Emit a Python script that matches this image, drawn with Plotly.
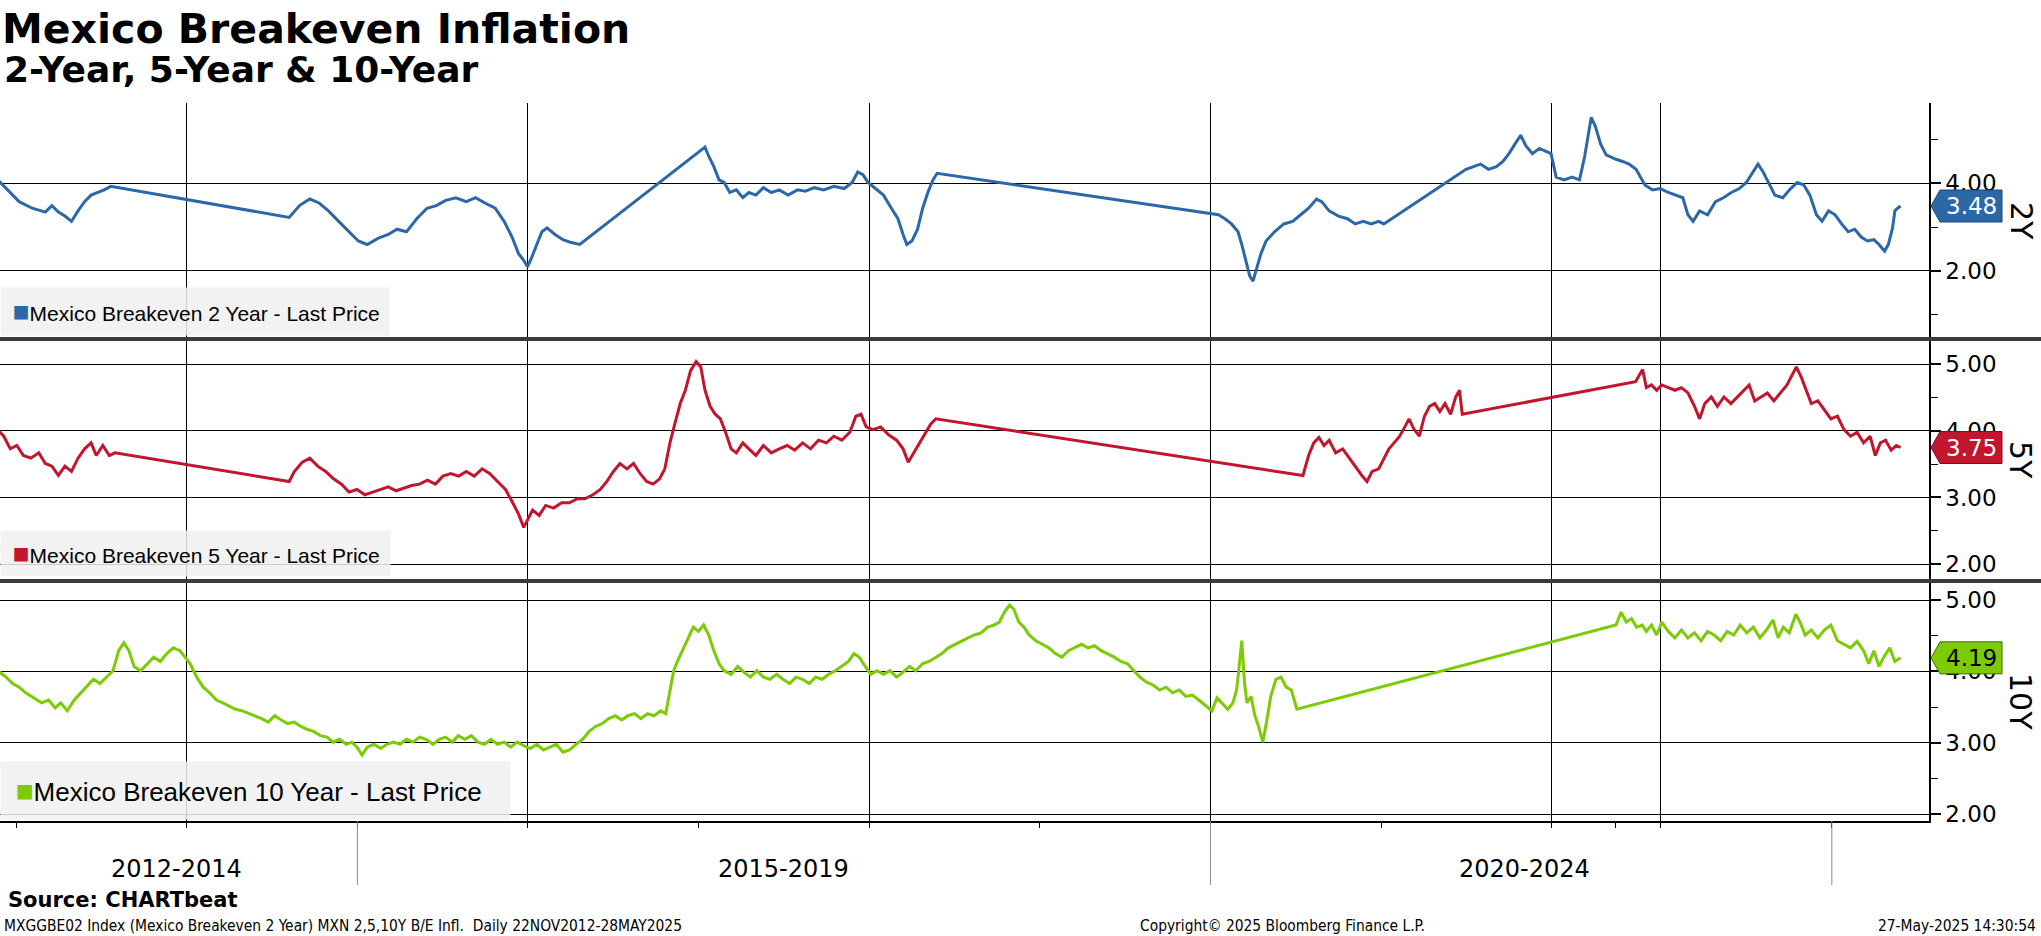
import plotly.graph_objects as go

# ---------------- data ----------------
dates_2y = ["2012-11-22","2012-12-10","2013-01-07","2013-02-04","2013-03-04","2013-03-18","2013-04-01","2013-04-15",
 "2013-04-29","2013-05-13","2013-05-27","2013-06-10","2013-06-24","2013-07-08","2013-07-22",
 "2014-08-08","2014-08-30","2014-09-21","2014-10-11","2014-10-31","2014-11-22","2014-12-14",
 "2015-01-03","2015-01-22","2015-02-14","2015-03-08","2015-03-27","2015-04-16","2015-05-08","2015-05-30",
 "2015-06-19","2015-07-09","2015-07-31","2015-08-22","2015-09-11","2015-10-01","2015-10-23","2015-11-11",
 "2015-11-28","2015-12-12","2015-12-23","2015-12-31","2016-01-09","2016-01-20","2016-01-31","2016-02-11",
 "2016-02-28","2016-03-16","2016-04-01","2016-04-21",
 "2017-01-14","2017-01-22","2017-02-02","2017-02-13","2017-02-24","2017-03-08","2017-03-22","2017-04-05",
 "2017-04-18","2017-05-03","2017-05-19","2017-06-05","2017-06-22","2017-07-11","2017-07-31","2017-08-17",
 "2017-09-05","2017-09-25","2017-10-17","2017-11-08","2017-11-25","2017-12-07","2017-12-18","2017-12-29",
 "2018-01-14","2018-01-31","2018-02-17","2018-03-03","2018-03-14","2018-03-22","2018-04-02","2018-04-14",
 "2018-04-25","2018-05-06","2018-05-17","2018-05-26",
 "2020-01-18","2020-02-01","2020-02-15","2020-02-29","2020-03-08","2020-03-17","2020-03-25","2020-04-01",
 "2020-04-10","2020-04-18","2020-04-29","2020-05-17","2020-06-06","2020-06-25","2020-07-12","2020-07-29",
 "2020-08-15","2020-08-26","2020-09-11","2020-10-01","2020-10-20","2020-11-06","2020-11-23","2020-12-10",
 "2020-12-26","2021-01-06",
 "2021-07-01","2021-07-15","2021-08-01","2021-08-18","2021-09-04","2021-09-18","2021-10-01","2021-10-15",
 "2021-10-26","2021-11-06","2021-11-20","2021-12-05","2021-12-19","2021-12-30","2022-01-10","2022-01-27",
 "2022-02-13","2022-03-01","2022-03-12","2022-03-19","2022-11-10","2022-11-19","2022-11-30","2022-12-12",
 "2022-12-22","2023-01-02","2023-01-16","2023-01-30","2023-02-14","2023-02-27","2023-11-28","2023-12-14",
 "2023-12-31","2024-01-17","2024-02-03","2024-02-17","2024-02-28","2024-03-10","2024-03-24","2024-04-10",
 "2024-04-27","2024-05-14","2024-05-31","2024-06-17","2024-07-02","2024-07-16","2024-07-27","2024-08-07",
 "2024-08-19","2024-09-01","2024-09-18","2024-10-05","2024-10-19","2024-11-02","2024-11-15","2024-11-29",
 "2024-12-11","2024-12-25","2025-01-08","2025-01-22","2025-02-05","2025-02-19","2025-03-05","2025-03-18",
 "2025-04-01","2025-04-12","2025-04-24","2025-05-02","2025-05-11","2025-05-16","2025-05-22","2025-05-28"]
values_2y = [4.08,3.88,3.58,3.43,3.34,3.49,3.34,3.25,
 3.13,3.37,3.58,3.73,3.79,3.85,3.93,
 3.22,3.49,3.64,3.55,3.37,3.13,2.89,
 2.68,2.60,2.74,2.83,2.95,2.89,3.19,3.43,
 3.49,3.61,3.67,3.58,3.67,3.55,3.43,3.13,
 2.77,2.39,2.24,2.09,2.30,2.60,2.89,2.98,
 2.83,2.71,2.65,2.60,
 4.83,4.62,4.38,4.08,4.02,3.79,3.85,3.67,
 3.79,3.73,3.90,3.79,3.85,3.73,3.85,3.82,
 3.90,3.85,3.93,3.88,4.02,4.26,4.20,4.02,
 3.88,3.73,3.43,3.19,2.83,2.60,2.68,2.95,
 3.43,3.79,4.08,4.23,
 3.28,3.19,3.07,2.89,2.60,2.24,1.88,1.76,
 2.09,2.39,2.68,2.89,3.07,3.13,3.28,3.43,
 3.64,3.58,3.37,3.25,3.19,3.07,3.13,3.07,
 3.13,3.07,
 4.32,4.38,4.44,4.32,4.38,4.50,4.68,4.92,
 5.10,4.86,4.68,4.80,4.74,4.68,4.14,4.08,
 4.14,4.08,4.62,5.10,5.51,5.30,4.90,4.65,
 4.60,4.55,4.50,4.44,4.32,4.08,3.96,3.85,
 3.88,3.79,3.73,3.67,3.28,3.13,3.37,3.28,
 3.58,3.67,3.79,3.88,4.02,4.26,4.44,4.26,
 4.02,3.73,3.67,3.88,4.02,3.96,3.73,3.28,
 3.13,3.37,3.28,3.07,2.89,2.95,2.77,2.68,
 2.71,2.60,2.45,2.60,2.98,3.37,3.43,3.48]

dates_5y = ["2012-11-22","2012-12-05","2012-12-19","2013-01-02","2013-01-16","2013-02-01","2013-02-18","2013-03-04",
 "2013-03-18","2013-04-01","2013-04-15","2013-04-29","2013-05-13","2013-05-27","2013-06-10","2013-06-21",
 "2013-07-05","2013-07-19","2013-07-31",
 "2014-08-08","2014-08-19","2014-09-05","2014-09-21","2014-10-08","2014-10-25","2014-11-11","2014-11-28",
 "2014-12-14","2014-12-31","2015-01-17","2015-02-03","2015-02-20","2015-03-08","2015-03-25","2015-04-10",
 "2015-04-27","2015-05-14","2015-05-31","2015-06-17","2015-07-03","2015-07-20","2015-08-06","2015-08-22",
 "2015-09-08","2015-09-25","2015-10-11","2015-10-28","2015-11-14","2015-11-28","2015-12-12","2015-12-23",
 "2015-12-31","2016-01-11","2016-01-25","2016-02-08","2016-02-25","2016-03-13","2016-03-30","2016-04-16",
 "2016-05-02","2016-05-19","2016-06-04","2016-06-18","2016-07-02","2016-07-16","2016-07-31","2016-08-14",
 "2016-08-28","2016-09-11","2016-09-25","2016-10-09","2016-10-20","2016-10-31","2016-11-11","2016-11-22",
 "2016-12-03","2016-12-14","2016-12-26","2017-01-05","2017-01-14","2017-01-25","2017-02-05","2017-02-16",
 "2017-02-27","2017-03-11","2017-03-22","2017-04-05","2017-04-18","2017-05-03","2017-05-19","2017-06-05",
 "2017-06-22","2017-07-09","2017-07-25","2017-08-11","2017-08-28","2017-09-14","2017-10-01","2017-10-17",
 "2017-11-03","2017-11-20","2017-12-03","2017-12-14","2017-12-25","2018-01-09","2018-01-25","2018-02-11",
 "2018-02-28","2018-03-14","2018-03-25","2018-04-06","2018-04-17","2018-05-01","2018-05-12","2018-05-23",
 "2020-07-17","2020-07-29","2020-08-09","2020-08-20","2020-08-31","2020-09-11","2020-09-25","2020-10-10",
 "2020-10-24","2020-11-06","2020-11-20","2020-12-01","2020-12-12","2020-12-26","2021-01-06","2021-01-17",
 "2021-01-28","2021-02-09","2021-02-20","2021-03-01","2021-03-12","2021-03-23","2021-04-03","2021-04-14",
 "2021-04-25","2021-05-06","2021-05-17","2021-05-29","2021-06-09","2021-06-17","2021-06-23",
 "2023-02-13","2023-02-21","2023-02-28","2023-12-01","2023-12-12","2023-12-23","2024-01-03","2024-01-17",
 "2024-01-31","2024-02-14","2024-02-28","2024-03-13","2024-03-24","2024-04-04","2024-04-18","2024-05-01",
 "2024-05-15","2024-05-30","2024-06-13","2024-06-27","2024-07-08","2024-07-20","2024-08-02","2024-08-16",
 "2024-08-30","2024-09-13","2024-09-27","2024-10-08","2024-10-17","2024-10-28","2024-11-07","2024-11-18",
 "2024-12-02","2024-12-16","2024-12-30","2025-01-13","2025-01-27","2025-02-10","2025-02-24","2025-03-10",
 "2025-03-24","2025-04-04","2025-04-15","2025-04-26","2025-05-08","2025-05-19","2025-05-28"]
values_5y = [4.02,3.92,3.73,3.78,3.63,3.59,3.67,3.51,
 3.47,3.33,3.47,3.39,3.59,3.73,3.82,3.63,
 3.78,3.63,3.67,
 3.24,3.39,3.53,3.59,3.47,3.39,3.28,3.20,
 3.08,3.12,3.04,3.08,3.12,3.16,3.10,3.14,
 3.18,3.20,3.26,3.20,3.32,3.36,3.32,3.39,
 3.32,3.43,3.36,3.24,3.12,2.94,2.75,2.55,
 2.65,2.81,2.73,2.88,2.84,2.92,2.92,2.98,
 2.98,3.04,3.12,3.24,3.39,3.51,3.43,3.51,
 3.36,3.24,3.20,3.28,3.43,3.82,4.12,4.41,
 4.61,4.90,5.04,4.96,4.61,4.37,4.25,4.18,
 3.98,3.73,3.67,3.82,3.73,3.63,3.78,3.67,
 3.73,3.78,3.71,3.82,3.73,3.86,3.82,3.92,
 3.86,3.98,4.22,4.25,4.06,4.02,4.06,3.94,
 3.86,3.73,3.53,3.67,3.82,3.98,4.10,4.18,
 3.33,3.63,3.82,3.90,3.78,3.86,3.67,3.73,
 3.59,3.47,3.33,3.24,3.39,3.43,3.59,3.73,
 3.82,3.92,4.06,4.18,4.02,3.92,4.22,4.37,
 4.41,4.29,4.41,4.25,4.51,4.61,4.25,
 4.74,4.84,4.92,4.65,4.69,4.61,4.69,4.65,
 4.61,4.65,4.57,4.37,4.18,4.41,4.51,4.37,
 4.51,4.41,4.51,4.61,4.69,4.45,4.51,4.57,
 4.45,4.57,4.69,4.84,4.96,4.80,4.61,4.41,
 4.45,4.31,4.18,4.22,4.02,3.92,3.98,3.82,
 3.92,3.63,3.82,3.86,3.71,3.78,3.75]

dates_10y = ["2012-11-22","2012-12-10","2012-12-24","2013-01-07","2013-01-21","2013-02-07","2013-02-24","2013-03-11",
 "2013-03-25","2013-04-06","2013-04-20","2013-05-05","2013-05-19","2013-06-01","2013-06-15","2013-06-29",
 "2013-07-13","2013-07-27","2013-08-08","2013-08-19","2013-08-30","2013-09-10","2013-09-24","2013-10-08",
 "2013-10-22","2013-11-05","2013-11-19","2013-12-03","2013-12-17","2013-12-28","2014-01-08","2014-01-22",
 "2014-02-05","2014-02-19","2014-03-05","2014-03-19","2014-04-01","2014-04-15","2014-04-29","2014-05-14",
 "2014-05-28","2014-06-10","2014-06-24","2014-07-08","2014-07-22","2014-08-05","2014-08-19","2014-09-02",
 "2014-09-15","2014-09-29","2014-10-14","2014-10-28","2014-11-10","2014-11-24","2014-12-08","2014-12-20",
 "2014-12-31","2015-01-11","2015-01-22","2015-02-05","2015-02-20","2015-03-05","2015-03-19","2015-04-02",
 "2015-04-16","2015-04-30","2015-05-14","2015-05-28","2015-06-12","2015-06-25","2015-07-09","2015-07-23",
 "2015-08-05","2015-08-19","2015-09-02","2015-09-16","2015-09-30","2015-10-14","2015-10-28","2015-11-11",
 "2015-11-25","2015-12-09","2015-12-23","2016-01-06","2016-01-20","2016-02-03","2016-02-17","2016-03-02",
 "2016-03-16","2016-03-30","2016-04-13","2016-04-27","2016-05-11","2016-05-25","2016-06-08","2016-06-22",
 "2016-07-06","2016-07-20","2016-08-02","2016-08-16","2016-08-30","2016-09-13","2016-09-27","2016-10-11",
 "2016-10-22","2016-10-31","2016-11-08","2016-11-16","2016-11-27","2016-12-09","2016-12-20","2016-12-31",
 "2017-01-11","2017-01-22","2017-02-02","2017-02-13","2017-02-24","2017-03-11","2017-03-25","2017-04-07",
 "2017-04-21","2017-05-05","2017-05-19","2017-06-02","2017-06-16","2017-06-30","2017-07-14","2017-07-28",
 "2017-08-11","2017-08-25","2017-09-08","2017-09-22","2017-10-06","2017-10-20","2017-11-03","2017-11-17",
 "2017-11-29","2017-12-10","2017-12-23","2018-01-04","2018-01-17","2018-01-31","2018-02-14","2018-02-28",
 "2018-03-14","2018-03-28","2018-04-10","2018-04-25","2018-05-09","2018-05-23","2018-06-05","2018-06-19",
 "2018-07-03","2018-07-17","2018-07-31","2018-08-14","2018-08-28","2018-09-11","2018-09-25","2018-10-06",
 "2018-10-17","2018-10-28","2018-11-06","2018-11-17","2018-11-28","2018-12-09","2018-12-23","2019-01-06",
 "2019-01-20","2019-02-03","2019-02-17","2019-03-03","2019-03-17","2019-03-31","2019-04-14","2019-04-28",
 "2019-05-12","2019-05-26","2019-06-09","2019-06-23","2019-07-07","2019-07-21","2019-08-03","2019-08-17",
 "2019-08-31","2019-09-14","2019-09-28","2019-10-12","2019-10-26","2019-11-09","2019-11-23","2019-12-07",
 "2019-12-21","2020-01-04","2020-01-15","2020-01-26","2020-02-07","2020-02-18","2020-02-26","2020-03-03",
 "2020-03-08","2020-03-14","2020-03-19","2020-03-28","2020-04-05","2020-04-13","2020-04-22","2020-04-30",
 "2020-05-09","2020-05-20","2020-05-31","2020-06-11","2020-06-22","2020-07-04",
 "2023-01-02","2023-01-13","2023-01-24","2023-02-04","2023-02-15","2023-02-27","2023-12-01","2023-12-12",
 "2023-12-23","2024-01-03","2024-01-17","2024-01-31","2024-02-14","2024-02-28","2024-03-13","2024-03-27",
 "2024-04-10","2024-04-24","2024-05-08","2024-05-22","2024-06-05","2024-06-19","2024-07-03","2024-07-17",
 "2024-07-31","2024-08-14","2024-08-28","2024-09-08","2024-09-19","2024-10-02","2024-10-16","2024-10-25",
 "2024-11-05","2024-11-18","2024-12-02","2024-12-16","2024-12-30","2025-01-13","2025-01-27","2025-02-10",
 "2025-02-24","2025-03-10","2025-03-21","2025-04-01","2025-04-12","2025-04-23","2025-05-05","2025-05-16",
 "2025-05-28"]
values_10y = [4.01,3.92,3.83,3.78,3.70,3.63,3.56,3.60,
 3.49,3.56,3.45,3.60,3.70,3.78,3.89,3.83,
 3.92,4.01,4.29,4.40,4.29,4.07,4.01,4.11,
 4.20,4.14,4.25,4.33,4.29,4.20,4.11,3.92,
 3.78,3.70,3.60,3.56,3.52,3.47,3.45,3.41,
 3.38,3.34,3.29,3.38,3.32,3.27,3.29,3.23,
 3.19,3.16,3.10,3.08,3.01,3.05,2.98,3.01,
 2.94,2.83,2.94,2.98,2.92,2.98,3.01,2.98,
 3.05,3.01,3.08,3.05,2.98,3.05,3.08,3.01,
 3.10,3.05,3.10,3.01,2.98,3.05,2.98,3.01,
 2.94,3.01,2.96,2.92,2.98,2.90,2.94,2.98,
 2.87,2.90,2.98,3.05,3.16,3.23,3.27,3.34,
 3.38,3.32,3.38,3.41,3.34,3.41,3.38,3.45,
 3.41,3.74,4.01,4.14,4.29,4.47,4.62,4.56,
 4.65,4.51,4.29,4.11,4.01,3.96,4.07,3.99,
 3.92,4.01,3.92,3.89,3.96,3.89,3.83,3.92,
 3.89,3.83,3.92,3.89,3.96,4.01,4.07,4.14,
 4.25,4.20,4.07,3.96,4.01,3.96,4.01,3.92,
 3.99,4.07,4.01,4.11,4.14,4.20,4.25,4.33,
 4.38,4.43,4.47,4.51,4.54,4.62,4.65,4.69,
 4.83,4.93,4.87,4.69,4.62,4.51,4.43,4.38,
 4.33,4.25,4.20,4.29,4.33,4.38,4.33,4.36,
 4.29,4.25,4.20,4.14,4.11,4.01,3.92,3.85,
 3.81,3.74,3.78,3.70,3.74,3.65,3.67,3.60,
 3.52,3.45,3.63,3.56,3.47,3.56,3.74,4.11,
 4.43,3.83,3.56,3.65,3.38,3.23,3.01,3.29,
 3.65,3.89,3.92,3.78,3.74,3.47,
 4.65,4.83,4.69,4.74,4.62,4.65,4.56,4.65,
 4.51,4.69,4.56,4.47,4.58,4.47,4.54,4.43,
 4.56,4.51,4.43,4.56,4.51,4.65,4.54,4.62,
 4.47,4.58,4.72,4.47,4.62,4.54,4.80,4.69,
 4.51,4.58,4.47,4.58,4.65,4.43,4.38,4.33,
 4.42,4.29,4.11,4.29,4.07,4.21,4.33,4.14,
 4.19]

series_names = ["Mexico Breakeven 2 Year - Last Price",
                "Mexico Breakeven 5 Year - Last Price",
                "Mexico Breakeven 10 Year - Last Price"]
panel_labels = ["2Y", "5Y", "10Y"]
group_labels = ["2012-2014", "2015-2019", "2020-2024"]
group_centers = ["2013-12-10", "2017-07-01", "2021-11-03"]
group_dividers = ["2015-01-01", "2020-01-01", "2025-01-01"]
grid_dates = ["2014-01-01", "2016-01-01", "2018-01-01", "2020-01-01", "2022-01-01", "2024-01-01"]
minor_dates = ["2013-01-01", "2015-01-01", "2017-01-01", "2019-01-01", "2021-01-01", "2023-01-01", "2025-01-01"]
skipped_spans = [["2022-03-20", "2022-11-04"], ["2023-03-01", "2023-11-24"]]

# ---------------- styling ----------------
C2, C5, C10 = "#2c68a8", "#c2162e", "#7ccb05"
BADGE_TXT = ["white", "white", "black"]
BADGE_EDGE = ["#1d4677", "#7e0e1e", "#3d6602"]
FONT = "DejaVu Sans"
LFONT = "Liberation Sans, Arial, sans-serif"
SFONT = "DejaVu Sans Condensed, Liberation Sans Narrow, DejaVu Sans"
SEP = "#3b3b3b"

# pixel geometry helpers (layout only)
W, H = 2041, 936
PL, PR, PT, PB = 0, 1929, 103, 821
ph = PB - PT
def py(px):  # figure pixel row -> paper y
    return (PB - px) / ph
def pxx(px):  # figure pixel column -> paper x
    return (px - PL) / (PR - PL)

dom1 = [py(339), 1.0]
dom2 = [py(581), py(339)]
dom3 = [0.0, py(581)]

fig = go.Figure()
series = [(dates_2y, values_2y, C2, "x", "y"),
          (dates_5y, values_5y, C5, "x2", "y2"),
          (dates_10y, values_10y, C10, "x3", "y3")]
for (d, v, c, xa, ya), nm in zip(series, series_names):
    fig.add_trace(go.Scatter(x=d, y=v, mode="lines", name=nm, xaxis=xa, yaxis=ya,
                             line=dict(color=c, width=3), showlegend=False,
                             hoverinfo="x+y"))

breaks = [dict(bounds=b) for b in skipped_spans]
x_range = ["2012-11-27", "2025-07-28"]

def xaxis(anchor, bottom=False):
    ax = dict(type="date", range=x_range, rangebreaks=breaks, anchor=anchor, domain=[0, 1],
              tickmode="array", tickvals=grid_dates, showgrid=True, gridcolor="black", gridwidth=1,
              showticklabels=False, zeroline=False, showline=False, ticks="")
    if bottom:
        ax.update(ticks="outside", ticklen=5, tickwidth=1, tickcolor="black",
                  showline=True, linecolor="black", linewidth=1.5,
                  minor=dict(tickmode="array", tickvals=minor_dates, ticks="outside",
                             ticklen=5, tickwidth=1, tickcolor="black", showgrid=False))
    return ax

def yaxis(anchor, dom, rng, major, minor):
    return dict(anchor=anchor, domain=dom, range=rng, side="right",
                tickmode="array", tickvals=major, tickformat=".2f",
                ticks="outside", ticklen=10, tickwidth=2, tickcolor="black",
                tickfont=dict(family=FONT, size=23, color="black"),
                showline=True, linecolor="black", linewidth=1.5,
                showgrid=True, gridcolor="black", gridwidth=1, zeroline=False,
                minor=dict(tickmode="array", tickvals=minor, ticks="outside", ticklen=7,
                           tickwidth=1, tickcolor="black", showgrid=False))

fig.update_layout(
    width=W, height=H,
    margin=dict(l=PL, r=W - PR, t=PT, b=H - PB, pad=0),
    paper_bgcolor="white", plot_bgcolor="white",
    showlegend=False,
    xaxis=xaxis("y"), xaxis2=xaxis("y2"), xaxis3=xaxis("y3", bottom=True),
    yaxis=yaxis("x", dom1, [0.437, 5.838], [2, 4], [1, 3, 5]),
    yaxis2=yaxis("x2", dom2, [1.745, 5.380], [2, 3, 4, 5], [2.5, 3.5, 4.5]),
    yaxis3=yaxis("x3", dom3, [1.906, 5.266], [2, 3, 4, 5], [2.5, 3.5, 4.5]),
    title=dict(text="<b>Mexico Breakeven Inflation</b>", font=dict(family=FONT, size=41, color="black"),
               x=2 / W, xref="container", xanchor="left",
               y=1 - 28.5 / H, yref="container", yanchor="middle"),
)

shapes = []
# thick panel separators spanning full width
for ysep in (339, 581):
    shapes.append(dict(type="line", xref="paper", yref="paper", x0=pxx(0), x1=pxx(W),
                       y0=py(ysep), y1=py(ysep), line=dict(color=SEP, width=4), layer="above"))
# group dividers under the time axis
for dv in group_dividers:
    shapes.append(dict(type="line", xref="x3", yref="paper", x0=dv, x1=dv,
                       y0=0, y1=py(885), line=dict(color="#8a8a8a", width=1)))

annotations = []
# last-value badges
for (d, v, c, xa, ya), tc, ec in zip(series, BADGE_TXT, BADGE_EDGE):
    last = v[-1]
    shapes.append(dict(type="path", xref="paper", xsizemode="pixel", xanchor=1.0,
                       yref=ya, ysizemode="pixel", yanchor=last,
                       path="M 2,0 L 11,16 L 73,16 L 73,-16 L 11,-16 Z",
                       fillcolor=c, line=dict(color=ec, width=1), layer="above"))
    annotations.append(dict(x=1.0, xref="paper", xshift=42, xanchor="center",
                            y=last, yref=ya, yanchor="middle", showarrow=False,
                            text=f"{last:.2f}", font=dict(family=FONT, size=23, color=tc)))

# panel labels (rotated)
centers = [(dom1[0] + dom1[1]) / 2, (dom2[0] + dom2[1]) / 2, (dom3[0] + dom3[1]) / 2]
for lab, yc in zip(panel_labels, centers):
    annotations.append(dict(x=pxx(2021), xref="paper", xanchor="center", y=yc, yref="paper",
                            yanchor="middle", textangle=90, showarrow=False, text=lab,
                            font=dict(family=FONT, size=30, color="black")))

# legend boxes
legend_specs = [(series_names[0], C2, 336, 388, 47, 21, 28),
                (series_names[1], C5, 577, 389, 45, 21, 28),
                (series_names[2], C10, 820, 509, 57, 26, 30)]
for nm, c, ybot, wbox, hbox, fs, ss in legend_specs:
    annotations.append(dict(x=0, xref="paper", xanchor="left", y=py(ybot), yref="paper",
                            yanchor="bottom", width=wbox, height=hbox, align="left", valign="middle",
                            borderpad=0, bgcolor="rgba(240,240,240,0.85)", showarrow=False,
                            text=f"&nbsp;&nbsp;<span style='color:{c};font-size:{ss}px'>■</span>{nm}",
                            font=dict(family=LFONT, size=fs, color="black")))

# x-axis group labels
for lab, xc in zip(group_labels, group_centers):
    annotations.append(dict(x=xc, xref="x3", xanchor="center", y=py(869), yref="paper",
                            yanchor="middle", showarrow=False, text=lab,
                            font=dict(family=FONT, size=24, color="black")))

# subtitle and footer texts
annotations += [
    dict(x=pxx(2), xref="paper", xanchor="left", y=py(69.5), yref="paper", yanchor="middle",
         showarrow=False, text="<b>2-Year, 5-Year &amp; 10-Year</b>",
         font=dict(family=FONT, size=36, color="black")),
    dict(x=pxx(6), xref="paper", xanchor="left", y=py(900), yref="paper", yanchor="middle",
         showarrow=False, text="<b>Source: CHARTbeat</b>",
         font=dict(family=FONT, size=21, color="black")),
    dict(x=pxx(2), xref="paper", xanchor="left", y=py(926), yref="paper", yanchor="middle",
         showarrow=False,
         text="MXGGBE02 Index (Mexico Breakeven 2 Year) MXN 2,5,10Y B/E Infl.&nbsp;&nbsp;Daily 22NOV2012-28MAY2025",
         font=dict(family=SFONT, size=15.4, color="black")),
    dict(x=pxx(1138), xref="paper", xanchor="left", y=py(926), yref="paper", yanchor="middle",
         showarrow=False, text="Copyright© 2025 Bloomberg Finance L.P.",
         font=dict(family=SFONT, size=15.4, color="black")),
    dict(x=pxx(2038), xref="paper", xanchor="right", y=py(926), yref="paper", yanchor="middle",
         showarrow=False, text="27-May-2025 14:30:54",
         font=dict(family=SFONT, size=15.4, color="black")),
]

fig.update_layout(shapes=shapes, annotations=annotations)
fig.write_html("out.html", config={"displayModeBar": False},
               post_script="document.body.style.margin='0';document.body.style.overflow='hidden';")
